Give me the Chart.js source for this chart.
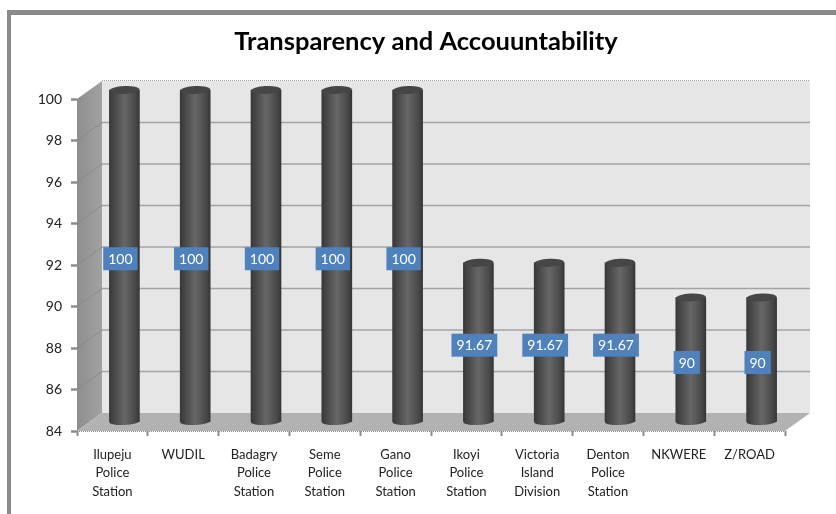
<!DOCTYPE html>
<html><head><meta charset="utf-8">
<style>html,body{margin:0;background:#fff}canvas{display:block}</style>
<script src="https://cdn.jsdelivr.net/npm/chart.js@4"></script>
</head><body><canvas id="c" width="836" height="514"></canvas>
<script>
const titleText = 'Transparency and Accouuntability';
const categories = [['Ilupeju','Police','Station'],['WUDIL'],['Badagry','Police','Station'],['Seme','Police','Station'],['Gano','Police','Station'],['Ikoyi','Police','Station'],['Victoria','Island','Division'],['Denton','Police','Station'],['NKWERE'],['Z/ROAD']];
const values = [100,100,100,100,100,91.67,91.67,91.67,90,90];
const yTicks = [84,86,88,90,92,94,96,98,100];

const wallDX = 25, wallDY = 18, barDX = 12, barDY = 9;
const gridColor = '#a3a3a3', tickColor = '#8c8c8c';

function barGradient(c, x, w){
  const g = c.createLinearGradient(x - w/2, 0, x + w/2, 0);
  g.addColorStop(0,'#383838'); g.addColorStop(0.12,'#444');
  g.addColorStop(0.5,'#676767'); g.addColorStop(0.88,'#474747'); g.addColorStop(1,'#363636');
  return g;
}
const scene = {
  id:'scene',
  beforeDraw(ch){
    const c = ch.ctx;
    c.save();
    c.fillStyle = '#fff'; c.fillRect(0,0,ch.width,ch.height);
    c.fillStyle = '#8a8a8a';
    c.fillRect(7,10,ch.width-7,5);
    c.fillRect(7,10,4,ch.height-10);
    c.restore();
  },
  afterLayout(ch){ ch.titleBlock.left = 26; ch.titleBlock.right = 826; },
  beforeDatasetsDraw(ch){
    const c = ch.ctx, a = ch.chartArea, ys = ch.scales.y;
    c.save();
    c.fillStyle = '#e6e6e6';
    c.fillRect(a.left+wallDX, a.top-wallDY, a.right-a.left, a.bottom-a.top);
    const lg = c.createLinearGradient(a.left,0,a.left+wallDX,0);
    lg.addColorStop(0,'#8e8e8e'); lg.addColorStop(1,'#a2a2a2');
    c.fillStyle = lg;
    c.beginPath();
    c.moveTo(a.left,a.top); c.lineTo(a.left+wallDX,a.top-wallDY);
    c.lineTo(a.left+wallDX,a.bottom-wallDY); c.lineTo(a.left,a.bottom); c.closePath(); c.fill();
    c.fillStyle = '#b2b2b2';
    c.beginPath();
    c.moveTo(a.left,a.bottom); c.lineTo(a.right,a.bottom);
    c.lineTo(a.right+wallDX,a.bottom-wallDY); c.lineTo(a.left+wallDX,a.bottom-wallDY); c.closePath(); c.fill();
    yTicks.forEach(v=>{
      const y = ys.getPixelForValue(v);
      if (v !== 84 && v !== 100){
        c.strokeStyle = '#8a8a8a'; c.lineWidth = 1;
        c.beginPath(); c.moveTo(a.left,y); c.lineTo(a.left+wallDX,y-wallDY); c.stroke();
      }
      if (v !== 100 && v !== 84){
        c.strokeStyle = gridColor; c.lineWidth = 1.5;
        c.beginPath(); c.moveTo(a.left+wallDX,y-wallDY); c.lineTo(a.right+wallDX,y-wallDY); c.stroke();
      }
    });
    c.strokeStyle = '#a0a0a0'; c.lineWidth = 1; c.setLineDash([1,1]);
    c.beginPath(); c.moveTo(a.left+wallDX,a.top-wallDY-.5); c.lineTo(a.right+wallDX,a.top-wallDY-.5); c.stroke();
    c.strokeStyle = '#8a8a8a';
    c.beginPath(); c.moveTo(a.left,a.bottom+.5); c.lineTo(a.right,a.bottom+.5); c.stroke();
    c.setLineDash([]);
    c.restore();
    c.save();
    c.translate(barDX,-barDY);
    ch.getDatasetMeta(0).data.forEach(b=>{
      c.fillStyle = barGradient(c,b.x,b.width);
      c.beginPath(); c.ellipse(b.x,b.base,b.width/2,3.5,-0.05,0,Math.PI*2); c.fill();
    });
  },
  afterDatasetsDraw(ch){
    const c = ch.ctx;
    ch.getDatasetMeta(0).data.forEach(b=>{
      c.fillStyle = '#464646';
      c.beginPath(); c.ellipse(b.x,b.y,b.width/2,4,-0.05,0,Math.PI*2); c.fill();
    });
    c.restore();
    c.save();
    c.font = '14px Lato';
    c.textAlign = 'center'; c.textBaseline = 'middle';
    ch.getDatasetMeta(0).data.forEach((b,i)=>{
      const t = String(values[i]);
      const w = c.measureText(t).width + 10, h = 23;
      const x = b.x + 8, y = (b.y + b.base)/2 - 6;
      c.fillStyle = '#4f81bd';
      c.fillRect(x-w/2,y-h/2,w,h);
      c.fillStyle = '#fff';
      c.fillText(t,x,y+.5);
    });
    c.restore();
  }
};
new Chart(document.getElementById('c'),{
  type:'bar',
  data:{labels:categories,datasets:[{data:values,base:84,barThickness:30,clip:false,borderWidth:0,
    backgroundColor(ctx){
      const ch = ctx.chart;
      if(!ch.chartArea || ctx.dataIndex===undefined) return '#555';
      return barGradient(ch.ctx,ch.scales.x.getPixelForValue(ctx.dataIndex),30);
    }}]},
  options:{
    responsive:false,animation:false,
    layout:{padding:{left:30,right:51,top:0,bottom:0}},
    plugins:{
      legend:{display:false},tooltip:{enabled:false},
      title:{display:true,text:titleText,color:'#000',font:{family:'Lato',size:25.5,weight:'bold',lineHeight:1.2},padding:{top:26,bottom:42.4}}
    },
    scales:{
      x:{afterFit(s){s.height=83;},
        border:{display:false},
        grid:{drawOnChartArea:false,tickLength:5,tickWidth:2,tickColor,offset:true},
        ticks:{autoSkip:false,maxRotation:0,minRotation:0,padding:10,color:'#222',font:{family:'Lato',size:13,lineHeight:1.4}}},
      y:{min:84,max:100,afterFit(s){s.width=47;},
        afterBuildTicks(s){s.ticks=yTicks.map(v=>({value:v}));},
        border:{display:false},
        grid:{drawOnChartArea:false,tickLength:6,tickWidth:2.5,tickColor},
        ticks:{padding:9,color:'#222',font:{family:'Lato',size:14}}}
    }
  },
  plugins:[scene]
});
</script></body></html>
